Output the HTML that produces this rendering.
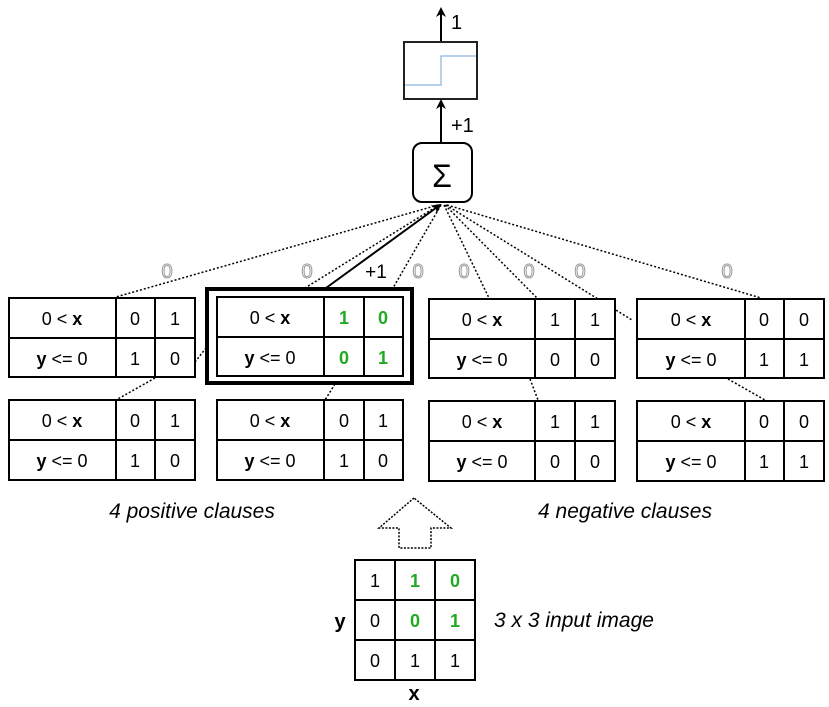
<!DOCTYPE html>
<html><head><meta charset="utf-8"><style>
html,body{margin:0;padding:0;background:#fff}
svg{display:block}
text{font-family:"Liberation Sans",sans-serif}
</style></head><body>
<svg width="829" height="707" viewBox="0 0 829 707" xmlns="http://www.w3.org/2000/svg">
<defs>
<marker id="ah" markerWidth="10" markerHeight="10" refX="8" refY="5" orient="auto" markerUnits="userSpaceOnUse">
<path d="M0,0 L10,5 L0,10 L3,5 z" fill="#000"/></marker>
</defs>
<line x1="441" y1="42" x2="441" y2="9" stroke="#000" stroke-width="2" marker-end="url(#ah)"/>
<text x="451" y="29" font-size="20">1</text>
<rect x="404" y="42" width="73" height="57" fill="#fff" stroke="#222" stroke-width="2"/>
<polyline points="405,85 441,85 441,56 476,56" fill="none" stroke="#8ab4e0" stroke-width="1.2"/>
<line x1="441" y1="143" x2="441" y2="101" stroke="#000" stroke-width="2" marker-end="url(#ah)"/>
<text x="451" y="132" font-size="20">+1</text>
<rect x="413" y="143" width="59" height="59" rx="9" fill="#fff" stroke="#000" stroke-width="2"/>
<text x="442" y="187" font-size="32" text-anchor="middle">Σ</text>
<g stroke="#000" stroke-width="1.5" stroke-dasharray="2,2" fill="none">
<line x1="438" y1="205" x2="116" y2="297"/>
<line x1="439" y1="205" x2="305" y2="288"/>
<line x1="441" y1="205" x2="393" y2="288"/>
<line x1="444" y1="205" x2="489" y2="298"/>
<line x1="445" y1="205" x2="537" y2="298"/>
<line x1="446" y1="205" x2="632" y2="320"/>
<line x1="447" y1="205" x2="761" y2="298"/>
<line x1="195" y1="362" x2="206" y2="348"/>
<line x1="155" y1="378" x2="116" y2="400"/>
<line x1="335" y1="384" x2="325" y2="400"/>
<line x1="530" y1="379" x2="538" y2="400"/>
<line x1="728" y1="379" x2="765" y2="400"/>
</g>
<line x1="326" y1="288" x2="440" y2="205" stroke="#000" stroke-width="2" marker-end="url(#ah)"/>
<g font-size="20" fill="#fff" stroke="#999" stroke-width="1" text-anchor="middle">
<text x="167" y="278">0</text><text x="307" y="278">0</text><text x="418" y="278">0</text>
<text x="464" y="278">0</text><text x="529" y="278">0</text><text x="580" y="278">0</text><text x="727" y="278">0</text>
</g>
<text x="376" y="278" font-size="19" text-anchor="middle">+1</text>
<rect x="207" y="289" width="205" height="94" fill="none" stroke="#000" stroke-width="4"/>
<g stroke="#000" stroke-width="2" fill="#fff">
<rect x="9" y="298" width="186" height="79"/><line x1="9" y1="338" x2="195" y2="338"/><line x1="116" y1="298" x2="116" y2="377"/><line x1="155" y1="298" x2="155" y2="377"/>
<rect x="217" y="297" width="186" height="79"/><line x1="217" y1="337" x2="403" y2="337"/><line x1="324" y1="297" x2="324" y2="376"/><line x1="364" y1="297" x2="364" y2="376"/>
<rect x="429" y="299" width="186" height="79"/><line x1="429" y1="339" x2="615" y2="339"/><line x1="535" y1="299" x2="535" y2="378"/><line x1="575" y1="299" x2="575" y2="378"/>
<rect x="637" y="299" width="187" height="79"/><line x1="637" y1="339" x2="824" y2="339"/><line x1="745" y1="299" x2="745" y2="378"/><line x1="784" y1="299" x2="784" y2="378"/>
<rect x="9" y="400" width="186" height="80"/><line x1="9" y1="440" x2="195" y2="440"/><line x1="116" y1="400" x2="116" y2="480"/><line x1="155" y1="400" x2="155" y2="480"/>
<rect x="217" y="400" width="186" height="80"/><line x1="217" y1="440" x2="403" y2="440"/><line x1="324" y1="400" x2="324" y2="480"/><line x1="364" y1="400" x2="364" y2="480"/>
<rect x="429" y="401" width="186" height="80"/><line x1="429" y1="441" x2="615" y2="441"/><line x1="535" y1="401" x2="535" y2="481"/><line x1="575" y1="401" x2="575" y2="481"/>
<rect x="637" y="401" width="187" height="80"/><line x1="637" y1="441" x2="824" y2="441"/><line x1="745" y1="401" x2="745" y2="481"/><line x1="784" y1="401" x2="784" y2="481"/>
</g>
<g font-size="18" text-anchor="middle">
<text x="62" y="325">0 &lt; <tspan font-weight="bold">x</tspan></text><text x="62" y="365"><tspan font-weight="bold">y</tspan> &lt;= 0</text>
<text x="135" y="325">0</text><text x="175" y="325">1</text><text x="135" y="365">1</text><text x="175" y="365">0</text>
<text x="270" y="324">0 &lt; <tspan font-weight="bold">x</tspan></text><text x="270" y="364"><tspan font-weight="bold">y</tspan> &lt;= 0</text>
<g fill="#22aa22" font-weight="bold"><text x="344" y="324">1</text><text x="383" y="324">0</text><text x="344" y="364">0</text><text x="383" y="364">1</text></g>
<text x="482" y="326">0 &lt; <tspan font-weight="bold">x</tspan></text><text x="482" y="366"><tspan font-weight="bold">y</tspan> &lt;= 0</text>
<text x="555" y="326">1</text><text x="595" y="326">1</text><text x="555" y="366">0</text><text x="595" y="366">0</text>
<text x="691" y="326">0 &lt; <tspan font-weight="bold">x</tspan></text><text x="691" y="366"><tspan font-weight="bold">y</tspan> &lt;= 0</text>
<text x="764" y="326">0</text><text x="804" y="326">0</text><text x="764" y="366">1</text><text x="804" y="366">1</text>
<text x="62" y="427">0 &lt; <tspan font-weight="bold">x</tspan></text><text x="62" y="467"><tspan font-weight="bold">y</tspan> &lt;= 0</text>
<text x="135" y="427">0</text><text x="175" y="427">1</text><text x="135" y="467">1</text><text x="175" y="467">0</text>
<text x="270" y="427">0 &lt; <tspan font-weight="bold">x</tspan></text><text x="270" y="467"><tspan font-weight="bold">y</tspan> &lt;= 0</text>
<text x="344" y="427">0</text><text x="383" y="427">1</text><text x="344" y="467">1</text><text x="383" y="467">0</text>
<text x="482" y="428">0 &lt; <tspan font-weight="bold">x</tspan></text><text x="482" y="468"><tspan font-weight="bold">y</tspan> &lt;= 0</text>
<text x="555" y="428">1</text><text x="595" y="428">1</text><text x="555" y="468">0</text><text x="595" y="468">0</text>
<text x="691" y="428">0 &lt; <tspan font-weight="bold">x</tspan></text><text x="691" y="468"><tspan font-weight="bold">y</tspan> &lt;= 0</text>
<text x="764" y="428">0</text><text x="804" y="428">0</text><text x="764" y="468">1</text><text x="804" y="468">1</text>
</g>
<text x="192" y="518" font-size="21" font-style="italic" text-anchor="middle">4 positive clauses</text>
<text x="625" y="518" font-size="21" font-style="italic" text-anchor="middle">4 negative clauses</text>
<polygon points="414,498 379,528 399,528 399,548 431,548 431,528 451,528" fill="none" stroke="#000" stroke-width="1.5" stroke-dasharray="2,1.5"/>
<g stroke="#000" stroke-width="2" fill="none">
<rect x="355" y="560" width="120" height="120"/>
<line x1="395" y1="560" x2="395" y2="680"/><line x1="435" y1="560" x2="435" y2="680"/>
<line x1="355" y1="600" x2="475" y2="600"/><line x1="355" y1="640" x2="475" y2="640"/>
</g>
<g font-size="18" text-anchor="middle">
<text x="375" y="587">1</text><text x="375" y="627">0</text><text x="375" y="667">0</text>
<text x="415" y="667">1</text><text x="455" y="667">1</text>
<g fill="#22aa22" font-weight="bold"><text x="415" y="587">1</text><text x="455" y="587">0</text><text x="415" y="627">0</text><text x="455" y="627">1</text></g>
<text x="340" y="628" font-weight="bold" font-size="20">y</text>
<text x="414" y="700" font-weight="bold" font-size="20">x</text>
</g>
<text x="494" y="627" font-size="21" font-style="italic">3 x 3 input image</text>
</svg>
</body></html>
